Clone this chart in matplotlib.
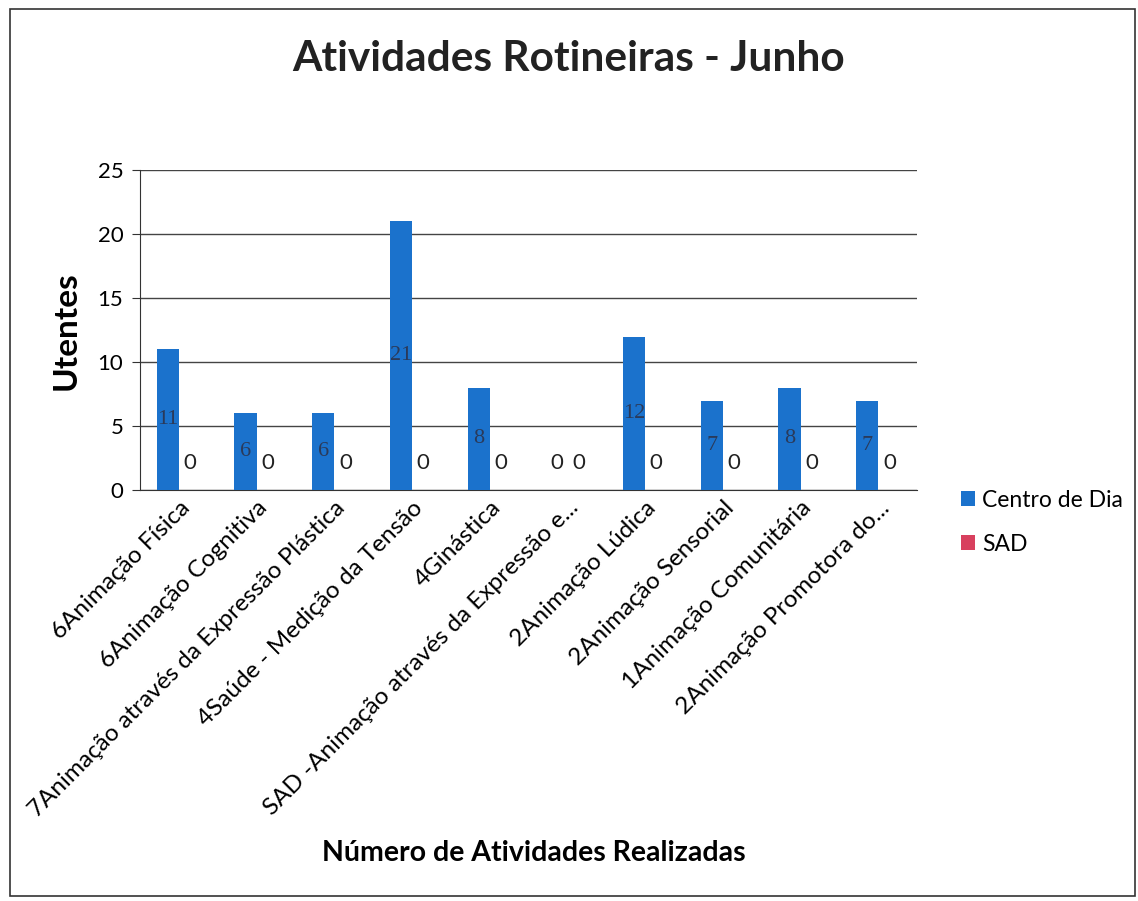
import matplotlib
matplotlib.use("Agg")
import matplotlib.pyplot as plt
import numpy as np
from matplotlib.patches import Rectangle

categories = [
    "6Animação Física",
    "6Animação Cognitiva",
    "7Animação através da Expressão Plástica",
    "4Saúde - Medição da Tensão",
    "4Ginástica",
    "SAD -Animação através da Expressão e...",
    "2Animação Lúdica",
    "2Animação Sensorial",
    "1Animação Comunitária",
    "2Animação Promotora do...",
]
centro_de_dia = [11, 6, 6, 21, 8, 0, 12, 7, 8, 7]
sad = [0, 0, 0, 0, 0, 0, 0, 0, 0, 0]
yticks = [0, 5, 10, 15, 20, 25]

plt.rcParams['font.family'] = ['Lato', 'DejaVu Sans']

fig = plt.figure(figsize=(11.38, 9.01), dpi=100)
ax = fig.add_axes([0.123, 0.456, 0.683, 0.355])

x = np.arange(len(categories))
w = 0.285
blue = '#1b72cc'
red = '#d8405e'
ax.bar(x - w / 2, centro_de_dia, width=w, color=blue, label='Centro de Dia', zorder=3)
ax.bar(x + w / 2, sad, width=w, color=red, label='SAD', zorder=3)

for xi, v in zip(x, centro_de_dia):
    if v > 0:
        ax.text(xi - w / 2, v / 2, str(v), ha='center', va='center',
                fontsize=16, family='Liberation Serif', color='#2a3a5a', zorder=4)
    else:
        ax.text(xi - w / 2, 2.1, str(v), ha='center', va='center',
                fontsize=16, color='#222222', zorder=4)
for xi, v in zip(x, sad):
    ax.text(xi + w / 2, v + 2.1, str(v), ha='center', va='center',
            fontsize=16, color='#222222', zorder=4)

ax.set_xlim(-0.5, len(categories) - 0.5)
ax.set_ylim(0, 25)
ax.set_yticks(yticks)
ax.yaxis.grid(True, color='#444444', linewidth=1.0, zorder=0)
ax.tick_params(axis='y', labelsize=16, length=6, color='#333333', pad=6)
ax.tick_params(axis='x', length=0, pad=5)
ax.set_xticks(x)
ax.set_xticklabels(categories, rotation=45, ha='right', rotation_mode='anchor', fontsize=17.5)
for s in ['top', 'right']:
    ax.spines[s].set_visible(False)
ax.spines['left'].set_color('#333333')
ax.spines['bottom'].set_color('#333333')

ax.set_ylabel('Utentes', fontsize=24, fontweight='bold', labelpad=12)
fig.text(0.469, 0.053, 'Número de Atividades Realizadas', ha='center', va='center',
         fontsize=20.5, fontweight='bold')
fig.text(0.5, 0.935, 'Atividades Rotineiras - Junho', ha='center', va='center',
         fontsize=30.5, fontweight='bold', color='#222222')

ax.legend(loc='center left', bbox_to_anchor=(1.03, -0.1), frameon=False,
          fontsize=16.5, handlelength=0.6, handleheight=0.6, handletextpad=0.3,
          labelspacing=1.0)

fig.patches.append(Rectangle((0.009, 0.005), 0.988, 0.985, transform=fig.transFigure,
                             fill=False, edgecolor='#333333', linewidth=1.2))

fig.savefig('out.png', dpi=100)
